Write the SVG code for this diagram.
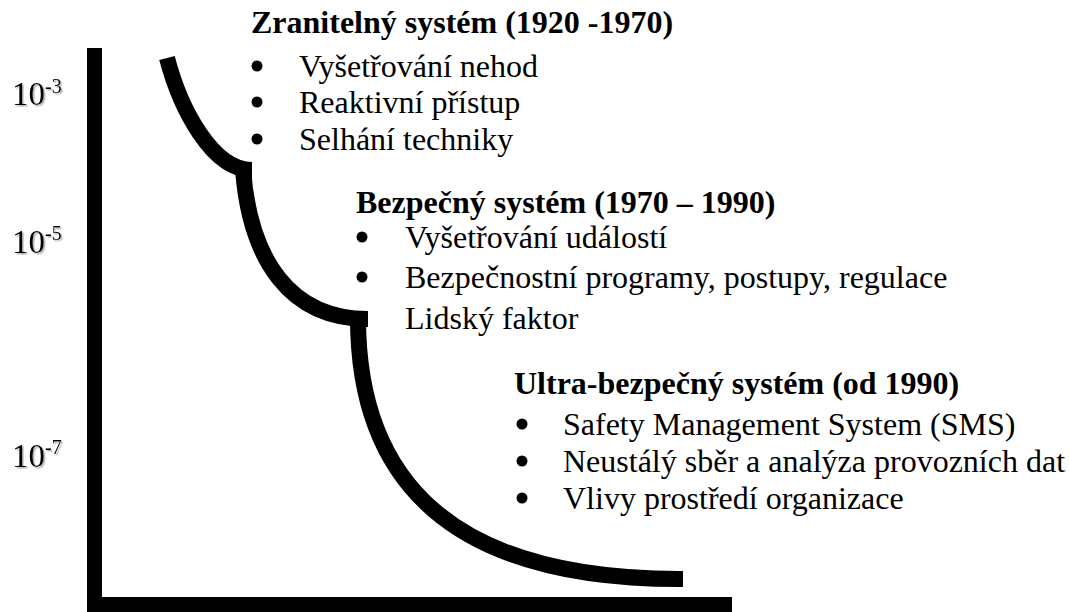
<svg xmlns="http://www.w3.org/2000/svg" width="1069" height="612" viewBox="0 0 1069 612">
<defs>
<filter id="sh" x="-20%" y="-20%" width="140%" height="140%">
<feDropShadow dx="1.5" dy="1.5" stdDeviation="0.6" flood-color="#999999" flood-opacity="0.8"/>
</filter>
</defs>
<style>
text{font-family:"Liberation Serif","Times New Roman",serif;font-size:32px;fill:#000}
.t{font-weight:bold}
.lab{filter:url(#sh);font-size:33px}
.sup{font-size:20px}
.b{fill:#000}
.curve{fill:none;stroke:#000;stroke-width:16;stroke-linecap:butt}
</style>
<rect width="1069" height="612" fill="#fff"/>
<g id="axes">
<rect x="87" y="48" width="15" height="564" fill="#000"/>
<rect x="87" y="597" width="645" height="15" fill="#000"/>
</g>
<g id="ylabels">
<text class="lab" x="12" y="105">10<tspan class="sup" dy="-12">-3</tspan></text>
<text class="lab" x="12" y="253">10<tspan class="sup" dy="-13">-5</tspan></text>
<text class="lab" x="12" y="467">10<tspan class="sup" dy="-13">-7</tspan></text>
</g>
<g id="block1">
<text class="t" x="251" y="33">Zranitelný systém (1920 -1970)</text>
<circle class="b" cx="257" cy="66" r="5.5"/><text x="299" y="77">Vyšetřování nehod</text>
<circle class="b" cx="257" cy="102" r="5.5"/><text x="299" y="113">Reaktivní přístup</text>
<circle class="b" cx="257" cy="139" r="5.5"/><text x="299" y="150">Selhání techniky</text>
</g>
<g id="block2">
<text class="t" x="356" y="213">Bezpečný systém (1970 – 1990)</text>
<circle class="b" cx="362" cy="237" r="5.5"/><text x="405" y="248">Vyšetřování událostí</text>
<circle class="b" cx="362" cy="277" r="5.5"/><text x="405" y="288">Bezpečnostní programy, postupy, regulace</text>
<circle class="b" cx="362" cy="318" r="5.5"/><text x="405" y="329">Lidský faktor</text>
</g>
<g id="block3">
<text class="t" x="514" y="394">Ultra-bezpečný systém (od 1990)</text>
<circle class="b" cx="522" cy="424" r="5.5"/><text x="563" y="435">Safety Management System (SMS)</text>
<circle class="b" cx="522" cy="461" r="5.5"/><text x="563" y="472">Neustálý sběr a analýza provozních dat</text>
<circle class="b" cx="522" cy="498" r="5.5"/><text x="563" y="509">Vlivy prostředí organizace</text>
</g>
<g id="connectors">
<path class="curve" d="M167 58 C180 108 212 170 252 170"/>
<path class="curve" d="M243 170 C250 260 290 319 368 319"/>
<path class="curve" d="M358 318 C358 480 450 580 683 579"/>
</g>
</svg>
